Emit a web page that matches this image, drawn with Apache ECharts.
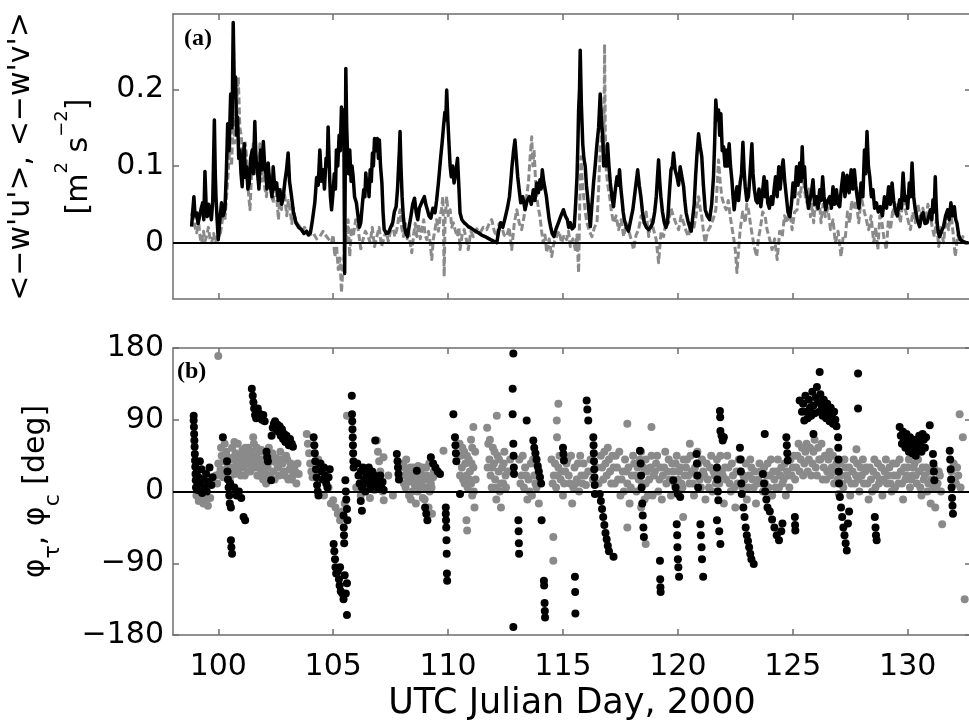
<!DOCTYPE html>
<html>
<head>
<meta charset="utf-8">
<script src="https://cdn.jsdelivr.net/npm/echarts@6.0.0/dist/echarts.min.js"></script>
<style>html,body{margin:0;padding:0;background:#fff}#c{width:969px;height:725px}</style>
</head>
<body>
<div id="c"></div>
<script>
// ---------------- data ----------------
const xTicks = [100, 105, 110, 115, 120, 125, 130];
const stressTicks = [0, 0.1, 0.2];
const angleTicks = [-180, -90, 0, 90, 180];

// <-w'u'>  [day, m^2 s^-2]  (black solid)
const uwStress = [[98.84,0.021],[98.90,0.045],[98.94,0.060],[98.99,0.035],[99.06,0.039],[99.12,0.025],[99.20,0.026],[99.26,0.045],[99.32,0.052],[99.37,0.030],[99.42,0.093],[99.47,0.050],[99.52,0.034],[99.58,0.050],[99.64,0.043],[99.70,0.030],[99.76,0.055],[99.83,0.160],[99.87,0.090],[99.90,0.060],[99.95,0.030],[100.00,0.004],[100.07,0.030],[100.14,0.052],[100.21,0.035],[100.29,0.043],[100.35,0.090],[100.41,0.155],[100.47,0.120],[100.54,0.194],[100.60,0.150],[100.65,0.287],[100.70,0.200],[100.75,0.216],[100.80,0.140],[100.84,0.164],[100.89,0.110],[100.94,0.121],[100.99,0.090],[101.04,0.073],[101.09,0.110],[101.13,0.129],[101.18,0.085],[101.23,0.099],[101.29,0.070],[101.35,0.078],[101.41,0.110],[101.48,0.121],[101.53,0.090],[101.59,0.158],[101.64,0.110],[101.70,0.095],[101.77,0.070],[101.84,0.121],[101.90,0.095],[101.96,0.132],[102.02,0.100],[102.07,0.091],[102.12,0.070],[102.17,0.104],[102.23,0.080],[102.29,0.069],[102.34,0.060],[102.39,0.099],[102.46,0.070],[102.54,0.078],[102.61,0.055],[102.68,0.069],[102.76,0.050],[102.83,0.060],[102.90,0.080],[102.97,0.095],[103.04,0.117],[103.10,0.080],[103.19,0.060],[103.27,0.040],[103.38,0.026],[103.50,0.020],[103.62,0.017],[103.73,0.012],[103.84,0.015],[103.92,0.010],[104.01,0.013],[104.10,0.030],[104.20,0.052],[104.28,0.085],[104.35,0.075],[104.42,0.121],[104.49,0.080],[104.56,0.095],[104.62,0.070],[104.69,0.110],[104.74,0.100],[104.78,0.151],[104.84,0.090],[104.88,0.060],[104.93,0.043],[104.98,0.060],[105.05,0.090],[105.10,0.070],[105.14,0.121],[105.20,0.100],[105.26,0.140],[105.31,0.120],[105.36,0.177],[105.41,0.140],[105.46,0.173],[105.50,-0.040],[105.55,0.227],[105.59,0.150],[105.62,0.121],[105.67,0.090],[105.72,0.121],[105.78,0.080],[105.82,0.100],[105.87,0.086],[105.93,0.060],[106.01,0.052],[106.08,0.035],[106.14,0.020],[106.20,0.026],[106.27,0.050],[106.33,0.069],[106.38,0.060],[106.42,0.091],[106.47,0.070],[106.52,0.080],[106.56,0.060],[106.61,0.095],[106.66,0.080],[106.71,0.117],[106.75,0.100],[106.80,0.136],[106.86,0.120],[106.92,0.136],[106.97,0.110],[107.01,0.134],[107.06,0.100],[107.12,0.078],[107.17,0.040],[107.22,0.017],[107.32,0.012],[107.41,0.013],[107.50,0.020],[107.59,0.026],[107.66,0.040],[107.74,0.047],[107.80,0.070],[107.84,0.095],[107.88,0.120],[107.91,0.145],[107.95,0.100],[108.00,0.060],[108.05,0.035],[108.10,0.021],[108.17,0.012],[108.23,0.008],[108.30,0.020],[108.38,0.034],[108.46,0.050],[108.54,0.058],[108.61,0.040],[108.68,0.030],[108.75,0.045],[108.81,0.043],[108.89,0.055],[108.97,0.060],[109.03,0.050],[109.10,0.043],[109.17,0.035],[109.25,0.032],[109.34,0.045],[109.43,0.039],[109.50,0.055],[109.58,0.078],[109.63,0.095],[109.68,0.112],[109.74,0.130],[109.80,0.151],[109.86,0.170],[109.90,0.160],[109.94,0.199],[109.99,0.160],[110.04,0.129],[110.09,0.100],[110.14,0.086],[110.20,0.100],[110.26,0.078],[110.33,0.090],[110.41,0.110],[110.46,0.080],[110.52,0.039],[110.60,0.030],[110.70,0.026],[110.79,0.024],[110.88,0.021],[111.00,0.019],[111.10,0.017],[111.21,0.015],[111.32,0.013],[111.46,0.010],[111.61,0.008],[111.73,0.006],[111.85,0.004],[111.98,0.002],[112.12,0.000],[112.20,0.015],[112.29,0.026],[112.38,0.020],[112.48,0.032],[112.58,0.045],[112.67,0.060],[112.73,0.080],[112.78,0.099],[112.85,0.120],[112.91,0.134],[112.97,0.110],[113.03,0.086],[113.09,0.070],[113.16,0.052],[113.25,0.060],[113.35,0.043],[113.44,0.055],[113.54,0.060],[113.62,0.050],[113.71,0.069],[113.78,0.055],[113.86,0.078],[113.93,0.065],[114.00,0.082],[114.05,0.070],[114.10,0.095],[114.16,0.080],[114.22,0.078],[114.28,0.060],[114.33,0.047],[114.40,0.030],[114.46,0.021],[114.53,0.012],[114.61,0.008],[114.70,0.018],[114.80,0.026],[114.91,0.035],[115.02,0.043],[115.10,0.035],[115.19,0.030],[115.25,0.020],[115.32,0.026],[115.40,0.018],[115.49,0.021],[115.55,0.050],[115.61,0.086],[115.65,0.130],[115.68,0.173],[115.72,0.200],[115.75,0.251],[115.80,0.180],[115.86,0.129],[115.91,0.110],[115.97,0.099],[116.02,0.075],[116.07,0.060],[116.13,0.040],[116.19,0.021],[116.26,0.050],[116.33,0.078],[116.40,0.100],[116.48,0.129],[116.55,0.150],[116.62,0.194],[116.67,0.160],[116.73,0.138],[116.77,0.100],[116.81,0.108],[116.88,0.100],[116.94,0.129],[117.00,0.100],[117.06,0.078],[117.13,0.060],[117.20,0.047],[117.28,0.070],[117.35,0.086],[117.41,0.075],[117.46,0.095],[117.52,0.070],[117.57,0.056],[117.62,0.040],[117.67,0.030],[117.76,0.020],[117.85,0.015],[117.95,0.030],[118.04,0.043],[118.15,0.070],[118.25,0.095],[118.32,0.075],[118.39,0.060],[118.46,0.040],[118.54,0.026],[118.63,0.020],[118.72,0.017],[118.81,0.020],[118.91,0.026],[118.99,0.040],[119.06,0.060],[119.11,0.085],[119.16,0.108],[119.21,0.080],[119.26,0.060],[119.33,0.040],[119.41,0.026],[119.48,0.020],[119.55,0.026],[119.62,0.060],[119.70,0.095],[119.76,0.100],[119.81,0.117],[119.88,0.095],[119.96,0.086],[120.03,0.075],[120.10,0.099],[120.18,0.085],[120.25,0.073],[120.30,0.055],[120.36,0.039],[120.44,0.028],[120.51,0.021],[120.58,0.015],[120.65,0.017],[120.71,0.050],[120.77,0.086],[120.83,0.115],[120.90,0.142],[120.97,0.125],[121.04,0.112],[121.11,0.075],[121.19,0.043],[121.28,0.035],[121.38,0.030],[121.47,0.050],[121.55,0.086],[121.60,0.130],[121.65,0.186],[121.71,0.160],[121.77,0.173],[121.82,0.140],[121.87,0.168],[121.93,0.120],[121.99,0.125],[122.05,0.100],[122.10,0.121],[122.16,0.100],[122.23,0.129],[122.29,0.100],[122.35,0.082],[122.40,0.060],[122.45,0.043],[122.51,0.060],[122.57,0.073],[122.64,0.055],[122.71,0.078],[122.77,0.090],[122.83,0.131],[122.88,0.095],[122.93,0.073],[123.00,0.055],[123.07,0.060],[123.14,0.090],[123.22,0.129],[123.27,0.090],[123.33,0.069],[123.40,0.055],[123.46,0.052],[123.53,0.070],[123.61,0.047],[123.68,0.065],[123.75,0.086],[123.80,0.060],[123.86,0.080],[123.91,0.052],[123.98,0.045],[124.06,0.060],[124.12,0.050],[124.19,0.070],[124.25,0.086],[124.32,0.060],[124.39,0.099],[124.45,0.070],[124.52,0.095],[124.58,0.108],[124.65,0.080],[124.72,0.060],[124.79,0.040],[124.87,0.034],[124.94,0.050],[125.01,0.078],[125.08,0.060],[125.16,0.099],[125.23,0.075],[125.30,0.104],[125.36,0.080],[125.41,0.125],[125.46,0.085],[125.51,0.099],[125.56,0.070],[125.62,0.060],[125.68,0.045],[125.74,0.043],[125.81,0.065],[125.88,0.082],[125.95,0.050],[126.03,0.060],[126.10,0.045],[126.17,0.069],[126.24,0.055],[126.30,0.086],[126.36,0.060],[126.43,0.043],[126.52,0.055],[126.61,0.060],[126.68,0.045],[126.75,0.073],[126.82,0.050],[126.90,0.069],[126.97,0.050],[127.04,0.047],[127.11,0.070],[127.19,0.091],[127.27,0.060],[127.36,0.088],[127.45,0.065],[127.54,0.095],[127.61,0.070],[127.68,0.095],[127.74,0.075],[127.80,0.060],[127.88,0.045],[127.97,0.078],[128.05,0.060],[128.12,0.121],[128.17,0.090],[128.23,0.145],[128.29,0.100],[128.35,0.086],[128.42,0.060],[128.49,0.069],[128.56,0.045],[128.64,0.052],[128.72,0.040],[128.81,0.047],[128.90,0.035],[128.99,0.060],[129.08,0.045],[129.17,0.073],[129.24,0.050],[129.32,0.078],[129.39,0.055],[129.46,0.043],[129.55,0.035],[129.65,0.056],[129.72,0.045],[129.80,0.091],[129.87,0.055],[129.94,0.060],[130.00,0.045],[130.07,0.078],[130.13,0.060],[130.19,0.104],[130.26,0.060],[130.33,0.043],[130.42,0.030],[130.52,0.021],[130.60,0.035],[130.67,0.039],[130.75,0.025],[130.84,0.026],[130.92,0.035],[130.99,0.043],[131.05,0.030],[131.10,0.056],[131.15,0.040],[131.20,0.086],[131.24,0.050],[131.28,0.026],[131.34,0.012],[131.39,0.008],[131.47,0.015],[131.56,0.021],[131.65,0.035],[131.74,0.043],[131.81,0.030],[131.88,0.052],[131.95,0.035],[132.03,0.047],[132.09,0.030],[132.14,0.026],[132.22,0.010],[132.29,0.004],[132.40,0.002],[132.51,0.000],[132.65,0.000]];

// <-w'v'>  [day, m^2 s^-2]  (grey dashed)
const vwStress = [[98.84,0.035],[98.92,0.050],[98.99,0.020],[99.06,0.013],[99.15,0.025],[99.22,0.005],[99.28,0.000],[99.36,0.015],[99.42,0.002],[99.49,0.008],[99.57,0.020],[99.64,0.005],[99.71,0.000],[99.80,0.012],[99.87,0.000],[99.93,0.004],[100.01,0.015],[100.07,0.008],[100.14,0.021],[100.22,0.040],[100.29,0.030],[100.36,0.060],[100.43,0.090],[100.51,0.129],[100.58,0.100],[100.65,0.164],[100.72,0.130],[100.80,0.180],[100.87,0.216],[100.94,0.150],[101.01,0.138],[101.06,0.100],[101.12,0.086],[101.18,0.130],[101.23,0.112],[101.30,0.070],[101.38,0.043],[101.45,0.090],[101.52,0.129],[101.59,0.090],[101.67,0.112],[101.74,0.080],[101.81,0.129],[101.88,0.080],[101.96,0.095],[102.03,0.070],[102.10,0.060],[102.17,0.100],[102.25,0.086],[102.32,0.060],[102.39,0.052],[102.46,0.080],[102.54,0.060],[102.62,0.030],[102.68,0.065],[102.75,0.043],[102.82,0.070],[102.90,0.060],[102.98,0.035],[103.05,0.055],[103.12,0.043],[103.20,0.025],[103.27,0.045],[103.33,0.034],[103.44,0.025],[103.55,0.021],[103.65,0.015],[103.75,0.020],[103.84,0.017],[103.98,0.010],[104.13,0.013],[104.28,0.005],[104.42,0.008],[104.56,0.015],[104.71,0.008],[104.82,0.004],[104.93,0.000],[105.00,0.010],[105.07,-0.018],[105.15,-0.005],[105.22,-0.035],[105.30,-0.020],[105.36,-0.065],[105.41,-0.040],[105.46,-0.026],[105.52,0.020],[105.58,0.000],[105.65,0.030],[105.72,-0.018],[105.80,0.020],[105.87,0.008],[105.98,0.030],[106.09,0.017],[106.20,-0.008],[106.30,0.004],[106.40,0.015],[106.52,0.008],[106.61,0.000],[106.70,0.020],[106.80,-0.005],[106.90,0.008],[107.00,0.020],[107.10,-0.005],[107.19,0.004],[107.30,0.015],[107.40,0.002],[107.48,0.013],[107.58,0.025],[107.68,0.008],[107.77,0.017],[107.84,0.030],[107.91,0.043],[107.98,0.020],[108.06,0.008],[108.15,0.025],[108.22,0.005],[108.28,0.017],[108.35,0.000],[108.42,-0.013],[108.50,0.010],[108.57,0.025],[108.64,0.008],[108.72,0.025],[108.79,0.005],[108.86,0.017],[108.94,0.030],[109.00,0.010],[109.07,0.004],[109.15,0.015],[109.22,0.000],[109.29,-0.022],[109.36,0.005],[109.43,0.017],[109.50,0.030],[109.58,0.015],[109.65,0.034],[109.72,0.045],[109.77,0.060],[109.80,0.020],[109.83,-0.044],[109.87,0.030],[109.94,0.060],[110.01,0.035],[110.09,0.043],[110.16,0.020],[110.23,0.026],[110.32,0.015],[110.41,0.008],[110.47,0.020],[110.52,-0.009],[110.61,0.010],[110.70,0.017],[110.79,0.005],[110.88,-0.009],[110.99,0.015],[111.10,0.008],[111.25,0.018],[111.39,0.013],[111.53,0.020],[111.68,0.017],[111.79,0.025],[111.90,0.030],[112.01,0.015],[112.12,0.008],[112.22,0.025],[112.33,0.021],[112.44,0.010],[112.55,0.008],[112.66,0.020],[112.77,-0.009],[112.88,0.025],[112.99,0.043],[113.10,0.025],[113.20,0.017],[113.31,0.035],[113.42,0.060],[113.50,0.080],[113.57,0.112],[113.64,0.138],[113.69,0.100],[113.74,0.121],[113.80,0.085],[113.86,0.060],[113.93,0.045],[114.00,0.034],[114.07,0.015],[114.14,0.000],[114.22,0.010],[114.29,-0.013],[114.40,0.005],[114.51,-0.018],[114.61,0.000],[114.72,0.008],[114.83,0.015],[114.94,0.000],[115.05,0.010],[115.16,0.004],[115.24,0.015],[115.32,-0.005],[115.43,0.005],[115.54,-0.009],[115.61,0.010],[115.68,-0.039],[115.73,0.050],[115.78,0.112],[115.84,0.080],[115.90,0.060],[115.97,0.040],[116.04,0.026],[116.15,0.015],[116.26,0.008],[116.37,0.020],[116.48,0.026],[116.55,0.070],[116.62,0.121],[116.68,0.140],[116.74,0.173],[116.78,0.120],[116.81,0.259],[116.84,0.150],[116.88,0.095],[116.95,0.075],[117.03,0.060],[117.11,0.040],[117.20,0.026],[117.31,0.035],[117.42,0.017],[117.53,0.030],[117.64,0.008],[117.75,0.025],[117.85,0.017],[117.96,0.005],[118.07,-0.009],[118.18,0.010],[118.29,0.017],[118.40,0.035],[118.51,0.026],[118.62,0.040],[118.73,0.008],[118.84,0.030],[118.94,0.017],[119.05,0.005],[119.16,-0.026],[119.27,0.015],[119.38,0.008],[119.49,0.030],[119.59,0.026],[119.70,0.045],[119.81,0.034],[119.92,0.025],[120.03,0.017],[120.14,0.035],[120.25,0.026],[120.36,0.015],[120.46,0.008],[120.57,0.025],[120.68,0.017],[120.79,0.035],[120.90,0.060],[120.97,0.045],[121.04,0.034],[121.11,0.015],[121.19,0.000],[121.30,0.015],[121.41,0.021],[121.53,0.030],[121.65,0.043],[121.71,0.075],[121.77,0.108],[121.84,0.080],[121.91,0.060],[122.00,0.050],[122.10,0.043],[122.19,0.055],[122.28,0.034],[122.35,0.020],[122.42,0.008],[122.50,-0.010],[122.57,-0.039],[122.64,-0.010],[122.71,0.017],[122.82,0.040],[122.93,0.026],[123.00,0.050],[123.07,0.043],[123.18,0.020],[123.29,0.000],[123.36,-0.010],[123.43,-0.018],[123.50,0.005],[123.58,0.017],[123.69,0.040],[123.80,0.034],[123.88,0.017],[123.99,0.005],[124.10,-0.009],[124.21,0.005],[124.32,-0.022],[124.43,0.015],[124.54,0.008],[124.64,0.035],[124.75,0.026],[124.86,0.045],[124.97,0.017],[125.08,0.040],[125.19,0.043],[125.26,0.065],[125.33,0.060],[125.40,0.085],[125.48,0.078],[125.55,0.060],[125.62,0.052],[125.70,0.070],[125.77,0.034],[125.84,0.050],[125.91,0.026],[125.98,0.055],[126.06,0.043],[126.14,0.060],[126.23,0.026],[126.32,0.050],[126.42,0.034],[126.53,0.045],[126.64,0.017],[126.75,0.030],[126.85,0.000],[126.97,0.015],[127.10,-0.018],[127.20,0.010],[127.29,0.008],[127.38,0.040],[127.48,0.026],[127.56,0.055],[127.65,0.043],[127.76,0.055],[127.87,0.026],[127.98,0.060],[128.09,0.043],[128.20,0.030],[128.30,0.017],[128.41,0.035],[128.52,0.000],[128.61,0.020],[128.70,-0.009],[128.79,0.035],[128.88,0.026],[128.97,0.005],[129.07,-0.009],[129.16,0.030],[129.25,0.017],[129.36,0.045],[129.46,0.034],[129.57,0.050],[129.68,0.026],[129.79,0.055],[129.90,0.043],[130.01,0.030],[130.12,0.017],[130.22,0.040],[130.33,0.026],[130.44,0.050],[130.55,0.034],[130.66,0.045],[130.77,0.026],[130.88,0.050],[130.99,0.034],[131.07,0.020],[131.16,0.008],[131.25,0.030],[131.35,-0.005],[131.45,0.020],[131.56,0.000],[131.67,0.035],[131.78,0.017],[131.86,0.040],[131.93,0.026],[132.00,0.005],[132.07,-0.018],[132.18,0.010],[132.29,0.000],[132.40,0.008],[132.51,0.000]];

// phi_tau  [day, deg]  (black dots)
const phiTau = [[98.93,95],[98.93,89],[98.94,81],[98.95,72],[98.96,64],[98.97,56],[98.98,47],[98.99,39],[99.00,31],[99.01,22],[99.02,14],[99.03,5],
[99.07,25],[99.14,18],[99.20,10],[99.20,38],[99.27,28],[99.34,15],[99.40,5],[99.47,22],[99.55,12],[99.62,30],[99.70,8],[99.75,18],[99.10,2],[99.30,-2],[99.50,0],
[100.20,68],[100.38,38],[100.40,25],[100.42,15],[100.45,5],[100.48,-5],[100.50,-15],[100.52,10],[100.55,-20],[100.55,-61],[100.57,-70],[100.60,-78],
[101.10,-32],[101.17,-36],[100.70,5],[100.80,-5],[100.90,0],[101.00,-8],
[101.46,129],[101.50,120],[101.53,112],[101.56,104],[101.60,96],[101.65,92],[101.72,104],[101.78,98],[101.84,94],[101.90,90],[101.96,96],[102.02,88],[102.10,50],[102.13,43],[102.16,38],[102.30,14],[102.32,70],[102.37,80],[102.42,85],[102.47,88],[102.52,78],[102.57,84],[102.62,75],[102.67,82],[102.72,70],[102.77,78],[102.82,66],[102.87,72],[102.92,62],[102.97,70],[103.02,64],[103.07,58],[103.12,66],[103.20,60],[103.25,56],
[104.15,68],[104.18,58],[104.20,48],[104.22,38],[104.25,28],[104.28,18],[104.30,8],[104.33,0],[104.36,-5],
[104.45,35],[104.50,25],[104.55,15],[104.60,30],[104.65,20],[104.70,10],[104.75,5],[104.80,18],[104.85,28],
[105.02,-66],[105.05,-75],[105.08,-85],[105.10,-95],[105.13,-103],[105.20,-100],[105.25,-110],[105.28,-118],[105.30,-95],[105.33,-125],[105.40,-128],[105.45,-135],[105.55,-128],[105.60,-115],[105.50,-105],[105.60,-155],
[105.45,-30],[105.46,-45],[105.47,-55],[105.48,-65],[105.53,14],[105.55,0],[105.57,-10],[105.60,-22],[105.62,-36],
[105.81,120],[105.82,97],[105.83,88],[105.84,78],[105.85,68],[105.86,58],[105.87,48],[105.88,38],[105.89,30],
[106.05,35],[106.10,20],[106.15,10],[106.20,25],[106.25,5],[106.30,30],[106.35,15],[106.40,0],[106.45,22],[106.50,10],[106.55,30],[106.60,18],[106.65,5],[106.70,25],[106.75,12],[106.80,20],[106.85,8],[106.90,15],[106.95,3],[107.00,10],[107.05,20],[107.10,5],[107.15,12],[107.20,2],
[106.20,-12],[106.25,-24],[106.83,64],
[107.77,47],[107.80,38],[107.82,30],[107.84,22],[107.86,15],[108.64,26],
[109.00,-20],[109.05,-28],[109.10,-36],[109.25,43],[109.35,35],[109.45,30],[109.55,25],[109.65,22],
[109.90,-20],[109.90,-28],[109.91,-36],[109.92,-45],[109.93,-61],[109.94,-78],[109.95,-103],[109.96,-112],
[110.23,97],[110.30,68],[110.32,58],[110.34,48],[110.36,38],[110.52,-3],
[112.84,173],[112.81,129],[112.81,97],[112.84,60],[112.85,45],[112.86,30],[112.87,22],[112.84,-170],
[113.06,-36],[113.07,-50],[113.08,-65],[113.09,-78],[113.42,89],
[113.71,64],[113.75,55],[113.80,48],[113.85,40],[113.90,32],[113.95,25],[114.00,18],[114.05,10],[114.07,-36],
[114.17,-112],[114.18,-118],[114.20,-140],[114.21,-150],[114.22,-158],
[115.00,55],[115.02,47],[115.04,39],[115.52,-107],[115.53,-126],[115.54,-153],
[116.03,114],[116.06,103],[116.10,89],
[116.32,68],[116.33,58],[116.34,48],[116.35,38],[116.36,28],[116.37,18],[116.38,8],[116.39,-3],
[116.60,-3],[116.65,-12],[116.70,-22],[116.75,-32],[116.80,-42],[116.85,-52],[116.90,-60],[116.95,-68],[117.00,-75],[117.20,-82],
[118.35,51],[118.38,35],[118.40,20],[118.42,5],[118.45,-15],[118.47,-30],[118.50,-45],[118.52,-57],
[119.22,-87],[119.23,-110],[119.24,-120],[119.25,-126],
[119.80,14],[119.90,5],[120.00,-3],[120.10,-7],
[119.95,-41],[119.97,-55],[119.98,-70],[120.00,-85],[120.02,-95],[120.05,-107],
[120.81,47],[120.83,35],[120.85,20],[120.88,5],
[120.98,-41],[121.00,-55],[121.03,-70],[121.05,-85],[121.10,-107],
[121.83,101],[121.84,93],[121.85,76],[121.90,70],[121.95,64],[122.00,68],
[121.70,30],[121.72,15],[121.74,0],[121.76,-11],[121.70,-36],[121.80,-50],[121.85,-66],
[122.70,55],[122.72,40],[122.74,25],[122.76,10],[122.78,-3],
[122.85,-20],[122.90,-32],[122.95,-45],[123.00,-55],[123.05,-62],[123.10,-70],[123.15,-78],[123.20,-85],[123.30,-91],
[123.78,72],[123.70,22],[123.75,10],[123.80,0],[123.85,-10],[123.90,-20],
[124.00,-25],[124.10,-35],[124.20,-45],[124.30,-55],[124.40,-61],[124.50,-50],[124.55,-40],
[124.72,68],[124.74,58],[124.76,48],[124.78,39],
[125.09,-32],[125.10,-42],[125.11,-49],
[125.30,114],[125.40,100],[125.50,89],
[125.45,110],[125.55,120],[125.60,100],[125.65,92],[125.70,115],[125.75,105],[125.80,95],[125.85,125],[125.90,108],[125.95,98],[126.00,118],[126.05,131],[126.10,112],[126.15,100],[126.20,122],[126.25,108],[126.30,95],[126.35,115],[126.40,102],[126.45,92],[126.50,110],[126.55,98],[126.60,88],[126.65,105],[126.70,95],[126.75,85],[126.80,100],[126.85,90],[126.90,82],
[126.17,150],[125.90,72],
[126.97,68],[126.98,55],[126.99,40],[127.00,25],[127.01,10],
[127.05,-7],[127.10,-20],[127.15,-32],[127.20,-45],[127.25,-55],[127.30,-65],[127.35,-74],[127.40,-40],[127.45,-25],
[127.84,148],[127.84,104],
[128.57,-32],[128.60,-45],[128.62,-55],[128.65,-61],
[129.65,81],[129.70,70],[129.75,60],[129.80,75],[129.85,65],[129.90,55],[129.95,72],[130.00,62],[130.05,50],[130.10,68],[130.15,58],[130.20,48],[130.25,65],[130.30,55],[130.35,45],[130.40,62],[130.45,52],[130.50,70],[130.55,60],[130.60,50],[130.65,72],[130.70,65],[130.75,55],[130.80,68],
[130.96,83],[131.10,47],[131.12,35],[131.14,25],[131.16,14],
[131.83,51],[131.85,40],[131.87,28],[131.89,15],[131.91,5],[131.93,-8],[131.95,-18],[131.97,-28]];

// phi_c  [day, deg]  (grey dots)
const phiC = [[100.00,170],
[99.05,-5],[99.15,-12],[99.25,-8],[99.35,-15],[99.45,-10],[99.55,-18],[99.65,-8],
[99.90,20],[100.00,35],[100.10,28],[100.15,45],[100.25,38],[100.30,25],[100.35,50],[100.45,42],[100.55,30],[100.60,55],[100.65,40],[100.70,22],[100.75,48],[100.80,35],[100.85,60],[100.90,28],[100.95,45],[101.00,38],[101.05,52],[101.10,30],[101.15,20],[101.20,45],[101.25,35],[101.30,55],[101.35,40],[101.40,25],[101.45,50],[101.50,38],[101.55,60],[101.60,30],[101.65,45],[101.70,20],[101.75,35],[101.80,50],[101.85,28],[101.90,40],[101.95,15],[102.00,32],[102.05,22],[102.10,45],[102.15,30],[102.20,55],[102.30,38],[102.40,25],[102.50,42],[102.60,30],[102.70,50],[102.80,35],[102.90,20],[103.00,40],[103.10,28],[103.20,15],[103.30,30],[103.40,10],[103.50,22],
[99.95,10],[100.05,22],[100.12,55],[100.20,18],[100.28,60],[100.40,30],[100.50,15],[100.58,42],[100.68,30],[100.78,25],[100.88,40],[100.98,20],[101.08,40],[101.18,55],[101.28,25],[101.38,48],[101.48,30],[101.58,42],[101.68,55],[101.78,20],[101.88,52],[101.98,38],[102.08,10],[102.18,40],[102.25,20],[102.35,48],[102.45,15],[102.55,35],[102.65,20],[102.75,40],[102.85,25],[102.95,45],[103.05,15],[103.15,35],[103.25,20],[103.35,25],[103.45,35],
[101.52,68],[100.70,62],
[103.85,72],[103.90,60],[103.95,48],[104.00,35],[104.05,25],[104.10,18],[104.35,40],[104.40,30],
[105.60,95],[105.00,-11],[105.10,-20],[105.20,-28],[105.30,-36],[105.40,-25],[105.50,-15],[104.60,-5],[104.80,5],[104.90,-15],
[106.90,64],[106.95,50],[107.00,38],[107.05,25],[107.10,12],[107.15,0],[107.20,-11],[107.19,43],
[106.00,5],[106.20,-5],[106.40,8],[106.60,-8],[106.80,2],[107.40,20],[107.60,-5],[107.95,30],
[108.05,35],[108.10,20],[108.15,5],[108.20,28],[108.25,12],[108.30,-5],[108.35,30],[108.40,15],[108.45,0],[108.50,22],[108.55,8],[108.60,-15],[108.65,18],[108.70,32],[108.75,5],[108.80,25],[108.85,12],[108.90,-8],[108.95,20],[109.00,5],[109.05,30],[109.10,15],[109.15,-20],[109.20,0],[109.25,10],[109.30,-28],[109.35,18],
[108.08,10],[108.18,40],[108.28,20],[108.38,-10],[108.48,30],[108.58,10],[108.68,0],[108.78,15],[108.88,30],[108.98,-10],[109.08,20],[109.18,35],[109.28,5],[109.38,25],
[109.80,51],
[110.50,60],[110.55,45],[110.60,30],[110.65,15],[110.70,50],[110.75,35],[110.80,20],[110.85,5],[110.90,40],[110.95,25],[111.00,10],[111.05,-5],[111.10,30],[111.15,-20],[111.20,15],
[110.52,20],[110.62,55],[110.72,10],[110.82,45],[110.92,15],[111.02,35],[111.12,0],[111.18,50],
[110.80,-36],[110.83,-49],[111.10,81],[111.00,65],[111.05,55],
[111.70,80],[111.75,60],[111.80,40],[111.85,20],[111.90,5],[111.95,55],[112.00,35],[112.05,15],[112.10,-10],[112.15,45],[112.20,25],[112.25,0],[112.30,-20],[112.35,30],[112.40,10],[112.45,50],[112.50,20],
[111.72,30],[111.82,65],[111.92,30],[112.02,50],[112.12,5],[112.22,40],[112.32,10],[112.42,35],[112.52,5],[112.60,25],[112.70,40],
[112.12,95],
[113.10,40],[113.20,20],[113.30,5],[113.35,30],[113.45,-10],[113.50,15],[113.60,35],[113.65,-5],[113.75,20],[113.85,5],[113.95,-15],
[113.15,10],[113.25,45],[113.40,20],[113.55,0],[113.70,40],[113.80,10],[113.90,30],
[114.58,-57],[114.58,-87],[114.80,110],[114.73,89],[114.74,68],
[114.50,40],[114.60,20],[114.70,5],[114.80,30],[114.90,15],[115.00,-5],[115.10,25],[115.20,40],[115.30,10],[115.40,-15],[115.50,30],[115.60,15],[115.70,0],[115.80,20],[115.90,35],[116.00,8],
[114.55,10],[114.65,35],[114.75,20],[114.85,45],[114.95,25],[115.05,10],[115.15,35],[115.25,20],[115.35,45],[115.45,5],[115.55,10],[115.65,35],[115.75,45],[115.85,10],[115.95,20],
[116.10,25],[116.20,40],[116.30,15],[116.45,30],[116.55,10],[116.65,45],
[116.70,30],[116.80,50],[116.90,20],[117.00,40],[117.10,10],[117.20,30],[117.30,45],[117.40,15],[117.50,-5],[117.60,25],[117.70,40],[117.80,10],[117.90,-15],[118.00,20],[118.10,35],[118.20,0],[118.30,15],[118.40,-20],[118.50,30],[118.60,10],[118.70,-5],
[116.75,15],[116.85,35],[116.95,55],[117.05,25],[117.15,45],[117.25,10],[117.35,30],[117.45,50],[117.55,15],[117.65,0],[117.75,25],[117.85,30],[117.95,5],[118.05,45],[118.15,20],[118.25,30],[118.35,40],[118.45,10],[118.55,-10],[118.65,25],
[117.80,85],[117.80,-45],[118.60,-66],[118.85,81],
[118.40,50],[118.60,40],[118.80,30],[118.90,-5],[119.00,25],[119.10,45],[119.20,15],[119.30,-10],[119.40,30],[119.50,10],[119.60,40],[119.70,-5],
[118.75,15],[118.85,45],[118.95,20],[119.05,35],[119.15,0],[119.25,30],[119.35,20],[119.45,50],[119.55,25],[119.65,15],[119.75,35],
[120.52,60],[120.23,-32],
[119.80,25],[119.90,35],[120.00,15],[120.10,30],[120.20,5],[120.30,20],[120.40,40],[120.50,10],[120.60,25],[120.70,-5],[120.80,20],[120.90,35],[121.00,5],[121.10,25],[121.20,-10],[121.30,15],[121.40,30],[121.50,0],[121.60,20],[121.70,40],[121.80,10],[121.90,25],[122.00,-15],[122.10,15],[122.20,30],[122.30,0],[122.40,20],[122.50,-20],[122.60,10],
[119.85,10],[119.95,45],[120.05,25],[120.15,10],[120.25,40],[120.35,30],[120.45,20],[120.55,45],[120.65,10],[120.75,30],[120.85,50],[120.95,15],[121.05,40],[121.15,20],[121.25,35],[121.35,5],[121.45,45],[121.55,25],[121.65,10],[121.75,25],[121.85,45],[121.95,20],[122.05,30],[122.15,45],[122.25,10],[122.35,35],[122.45,5],[122.55,25],[122.65,40],
[122.70,25],[122.80,5],[122.90,15],[123.00,-10],[123.10,20],[123.20,30],[123.30,5],[123.40,-15],[123.50,15],[123.60,25],[123.70,0],[123.80,10],[123.90,35],[124.00,20],[124.10,-5],[124.20,15],[124.30,25],[124.40,5],[124.50,30],[124.60,15],[124.70,-5],[124.80,20],[124.90,40],
[122.75,40],[122.85,20],[122.95,35],[123.05,5],[123.15,40],[123.25,15],[123.35,25],[123.45,10],[123.55,35],[123.65,10],[123.75,30],[123.85,20],[123.95,5],[124.05,40],[124.15,25],[124.25,5],[124.35,40],[124.45,20],[124.55,10],[124.65,35],[124.75,25],[124.85,5],[124.95,20],
[125.00,30],[125.10,15],[125.20,45],[125.30,25],[125.40,55],[125.50,35],[125.60,60],[125.70,40],[125.80,20],[125.90,50],[126.00,30],[126.10,55],[126.20,40],[126.30,15],[126.40,45],[126.50,25],[126.60,50],[126.70,30],[126.80,10],[126.90,35],[127.00,-3],
[125.05,45],[125.15,30],[125.25,60],[125.35,40],[125.45,20],[125.55,50],[125.65,25],[125.75,55],[125.85,35],[125.95,65],[126.05,20],[126.15,40],[126.25,60],[126.35,30],[126.45,15],[126.55,40],[126.65,20],[126.75,45],[126.85,25],[126.95,15],
[127.77,53],
[127.10,20],[127.20,5],[127.30,30],[127.40,15],[127.50,-5],[127.60,25],[127.70,10],[127.80,35],[127.90,0],[128.00,20],[128.10,10],[128.20,30],[128.30,-10],[128.40,15],[128.50,25],[128.60,5],[128.70,35],[128.80,15],[128.90,-5],[129.00,25],[129.10,10],[129.20,30],[129.30,0],[129.40,20],[129.50,35],[129.60,10],[129.70,25],[129.80,-10],[129.90,15],[130.00,30],[130.10,5],[130.20,20],[130.30,35],[130.40,10],[130.50,25],[130.60,-5],[130.70,15],[130.80,30],[130.90,10],[131.00,-15],[131.10,5],[131.20,-20],[131.30,10],[131.40,20],
[127.05,35],[127.15,10],[127.25,40],[127.35,20],[127.45,30],[127.55,10],[127.65,40],[127.75,20],[127.85,15],[127.95,30],[128.05,40],[128.15,25],[128.25,10],[128.35,30],[128.45,0],[128.55,40],[128.65,20],[128.75,10],[128.85,30],[128.95,15],[129.05,40],[129.15,20],[129.25,10],[129.35,35],[129.45,5],[129.55,20],[129.65,40],[129.75,10],[129.85,30],[129.95,20],[130.05,40],[130.15,15],[130.25,30],[130.35,20],[130.45,40],[130.55,5],[130.65,30],[130.75,20],[130.85,0],[130.95,25],[131.05,15],[131.15,30],[131.25,5],[131.35,25],[131.45,0],
[131.50,-41],[132.26,97],[132.40,68],[132.48,-135],
[131.90,25],[132.00,35],[132.10,10],[132.20,20],[132.05,15],[132.15,30],[132.30,5]];

// ---------------- chart ----------------
const X_MIN = 98.03, X_MAX = 132.755;
const S_MIN = -0.0734, S_MAX = 0.2982;
const FONT = 'DejaVu Sans';
const FRAME = '#6e6e6e';
const GREY = '#8a8a8a';

function xAx(grid, pos, labels) {
  return {
    type: 'value', gridIndex: grid, position: pos, min: X_MIN, max: X_MAX,
    axisLine: { show: true, onZero: false, lineStyle: { color: FRAME, width: 1.5 } },
    axisTick: { show: true, inside: true, length: 6, customValues: xTicks, lineStyle: { color: FRAME, width: 1.5 } },
    axisLabel: { show: labels, customValues: xTicks, margin: 17, color: '#000', fontFamily: FONT, fontSize: 30 },
    splitLine: { show: false }
  };
}
function yAx(grid, pos, min, max, ticks, labels, fmt) {
  return {
    type: 'value', gridIndex: grid, position: pos, min: min, max: max,
    axisLine: { show: true, onZero: false, lineStyle: { color: FRAME, width: 1.5 } },
    axisTick: { show: true, inside: true, length: 6, customValues: ticks, lineStyle: { color: FRAME, width: 1.5 } },
    axisLabel: { show: labels, customValues: ticks, margin: 9, color: '#000', fontFamily: FONT, fontSize: 30, formatter: fmt },
    splitLine: { show: false }
  };
}
const minusFmt = v => String(v).replace('-', '\u2212');

const xAxes = [xAx(0, 'bottom', false), xAx(0, 'top', false), xAx(1, 'bottom', true), xAx(1, 'top', false)];
xAxes[2].name = 'UTC Julian Day, 2000';
xAxes[2].nameLocation = 'middle';
xAxes[2].nameGap = 51;
xAxes[2].nameTextStyle = { fontFamily: FONT, fontSize: 35, color: '#000' };

const yAxes = [
  yAx(0, 'left', S_MIN, S_MAX, stressTicks, true, v => String(v)),
  yAx(0, 'right', S_MIN, S_MAX, stressTicks, false),
  yAx(1, 'left', -180, 180, angleTicks, true, minusFmt),
  yAx(1, 'right', -180, 180, angleTicks, false)
];
yAxes[0].name = "{m|<\u2212w'u'>, <\u2212w'v'>}\n{m|[m}{sup|2}{m| s}{sup|\u22122}{m|]}";
yAxes[0].nameLocation = 'middle';
yAxes[0].nameRotate = 90;
yAxes[0].nameGap = 48;
yAxes[0].nameTextStyle = {
  fontFamily: FONT, fontSize: 30, color: '#000',
  rich: {
    m: { fontFamily: FONT, fontSize: 30, lineHeight: 58, color: '#000' },
    sup: { fontFamily: FONT, fontSize: 18, lineHeight: 18, padding: [0, 0, 34, 0], color: '#000' }
  }
};
yAxes[2].name = '{m|\u03c6}{sub|\u03c4}{m|, \u03c6}{sub|c}{m| [deg]}';
yAxes[2].nameLocation = 'middle';
yAxes[2].nameRotate = 90;
yAxes[2].nameGap = 107;
yAxes[2].nameTextStyle = {
  fontFamily: FONT, fontSize: 30, color: '#000',
  rich: {
    m: { fontFamily: FONT, fontSize: 30, lineHeight: 60, color: '#000' },
    sub: { fontFamily: FONT, fontSize: 22, lineHeight: 22, padding: [34, 0, 0, 0], color: '#000' }
  }
};

const zeroLine = {
  silent: true, symbol: ['none', 'none'], label: { show: false },
  lineStyle: { color: '#000', width: 2, type: 'solid' }, emphasis: { disabled: true },
  data: [{ yAxis: 0 }]
};

const chart = echarts.init(document.getElementById('c'), null, { renderer: 'canvas', width: 969, height: 725 });
chart.setOption({
  animation: false,
  backgroundColor: '#fff',
  grid: [
    { left: 173, top: 14, right: -2, height: 285, outerBoundsMode: 'none', containLabel: false },
    { left: 173, top: 348, right: -2, height: 287, outerBoundsMode: 'none', containLabel: false }
  ],
  xAxis: xAxes,
  yAxis: yAxes,
  graphic: [
    { type: 'text', left: 184, top: 27, silent: true,
      style: { text: '(a)', fontFamily: 'Liberation Serif', fontWeight: 'bold', fontSize: 24, fill: '#000' } },
    { type: 'text', left: 177, top: 360, silent: true,
      style: { text: '(b)', fontFamily: 'Liberation Serif', fontWeight: 'bold', fontSize: 24, fill: '#000' } }
  ],
  series: [
    { type: 'line', name: "<\u2212w'v'>", xAxisIndex: 0, yAxisIndex: 0, data: vwStress,
      symbol: 'none', z: 2, lineStyle: { color: GREY, width: 3, type: [7, 3], join: 'round' } },
    { type: 'line', name: "<\u2212w'u'>", xAxisIndex: 0, yAxisIndex: 0, data: uwStress,
      symbol: 'none', z: 3, lineStyle: { color: '#000', width: 3.5, join: 'round' }, markLine: zeroLine },
    { type: 'scatter', name: '\u03c6c', xAxisIndex: 2, yAxisIndex: 2, data: phiC,
      symbolSize: 8, z: 2, itemStyle: { color: GREY, opacity: 1 }, markLine: zeroLine },
    { type: 'scatter', name: '\u03c6\u03c4', xAxisIndex: 2, yAxisIndex: 2, data: phiTau,
      symbolSize: 8, z: 4, itemStyle: { color: '#000', opacity: 1 } }
  ]
});
</script>
</body>
</html>
